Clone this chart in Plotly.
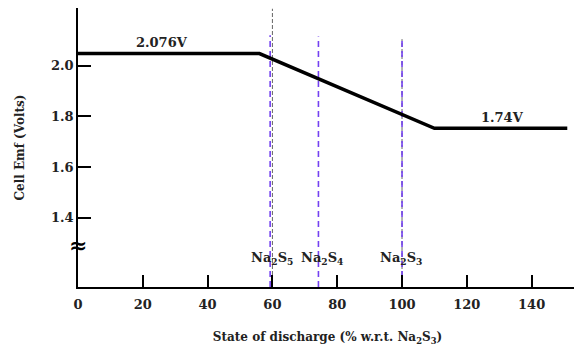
import plotly.graph_objects as go

# Data
curve_x = [0, 56, 110, 151]
curve_y = [2.048, 2.048, 1.753, 1.753]

purple_lines_x = [59.3, 74.2, 100]
purple_lines_top = [2.12, 2.115, 2.105]
grey_lines_x = [60, 100]
grey_lines_top = [2.225, 2.105]

species_labels = ["Na<sub>2</sub>S<sub>5</sub>", "Na<sub>2</sub>S<sub>4</sub>", "Na<sub>2</sub>S<sub>3</sub>"]
species_x = [59.8, 75.2, 99.6]

plateau_labels = ["2.076V", "1.74V"]
plateau_label_x = [26, 131]
plateau_label_y = [2.092, 1.795]

x_ticks = [0, 20, 40, 60, 80, 100, 120, 140]
y_ticks = [1.4, 1.6, 1.8, 2.0]
y_ticklabels = ["1.4", "1.6", "1.8", "2.0"]

Y_BOTTOM = 1.126
FONT = "DejaVu Serif"
TXT = "#222222"

fig = go.Figure()

for x, top in zip(grey_lines_x, grey_lines_top):
    fig.add_trace(go.Scatter(x=[x, x], y=[Y_BOTTOM, top], mode="lines",
                             line=dict(color="#666666", width=1, dash="4px,2px"),
                             hoverinfo="skip", showlegend=False))
for x, top in zip(purple_lines_x, purple_lines_top):
    fig.add_trace(go.Scatter(x=[x, x], y=[Y_BOTTOM, top], mode="lines",
                             line=dict(color="#7340f0", width=1.6, dash="6px,4px"),
                             hoverinfo="skip", showlegend=False))

fig.add_trace(go.Scatter(x=curve_x, y=curve_y, mode="lines",
                         line=dict(color="black", width=3.5),
                         hoverinfo="skip", showlegend=False))

for t, x, y in zip(plateau_labels, plateau_label_x, plateau_label_y):
    fig.add_annotation(x=x, y=y, text="<b>" + t + "</b>", showarrow=False,
                       font=dict(family=FONT, size=13, color=TXT))
for t, x in zip(species_labels, species_x):
    fig.add_annotation(x=x, y=1.24, text="<b>" + t + "</b>", showarrow=False,
                       font=dict(family=FONT, size=13, color=TXT))

# axis break symbol
fig.add_annotation(xref="paper", yref="y", x=0, y=1.29, text="≈", showarrow=False,
                   xanchor="center", yanchor="middle",
                   font=dict(family=FONT, size=22, color="black"))

# page body has an 8px default margin, so the figure is sized to fit the window
fig.update_layout(
    width=574, height=338,
    margin=dict(l=70, r=5, t=0, b=59),
    paper_bgcolor="white", plot_bgcolor="white",
    font=dict(family=FONT, size=13, color=TXT, weight="bold"),
    showlegend=False,
)
fig.update_xaxes(range=[0, 154], tickvals=x_ticks, ticks="inside", ticklen=12,
                 tickwidth=1.5, tickcolor="black", showline=True, linecolor="black",
                 linewidth=1.5, showgrid=False, zeroline=False, automargin=False,
                 ticklabelstandoff=5,
                 tickfont=dict(family=FONT, size=13, color=TXT, weight="bold"),
                 title=dict(text="<b>State of discharge (% w.r.t. Na<sub>2</sub>S<sub>3</sub>)</b>",
                            font=dict(family=FONT, size=12, color=TXT), standoff=22))
fig.update_yaxes(range=[Y_BOTTOM, 2.228], tickvals=y_ticks, ticktext=y_ticklabels,
                 ticks="inside", ticklen=13, tickwidth=1.5, tickcolor="black",
                 showline=True, linecolor="black", linewidth=1.5, showgrid=False,
                 zeroline=False, ticklabelstandoff=0, automargin=False,
                 tickfont=dict(family=FONT, size=13, color=TXT, weight="bold"),
                 title=dict(text="<b>Cell Emf (Volts)</b>",
                            font=dict(family=FONT, size=12, color=TXT), standoff=24))

fig.write_html("out.html")
